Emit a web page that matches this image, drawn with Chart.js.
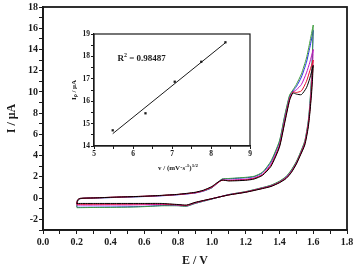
<!DOCTYPE html>
<html>
<head>
<meta charset="utf-8">
<script src="https://cdn.jsdelivr.net/npm/chart.js"></script>
<style>
  html, body { margin: 0; padding: 0; background: #fff; }
  #wrap { position: relative; width: 356px; height: 267px; }
  #main { position: absolute; left: 0; top: 0; }
  #inset { position: absolute; left: 60px; top: 25px; }
</style>
</head>
<body>
<div id="wrap">
  <canvas id="main" width="356" height="267"></canvas>
  <canvas id="inset" width="200" height="150"></canvas>
</div>
<script>
// potentials (V) of the forward and the reverse sweep
const fwdE = [0.2, 0.205, 0.22, 0.3, 0.4, 0.5, 0.6, 0.7, 0.8, 0.9, 0.95, 1.0, 1.03, 1.06,
  1.1, 1.2, 1.25, 1.3, 1.35, 1.4, 1.43, 1.46, 1.48, 1.5, 1.53, 1.56, 1.58, 1.6];
const revE = [1.6, 1.595, 1.59, 1.58, 1.57, 1.55, 1.52, 1.5, 1.47, 1.44, 1.4, 1.35, 1.3,
  1.2, 1.1, 1.0, 0.9, 0.85, 0.8, 0.7, 0.6, 0.5, 0.4, 0.3, 0.2];

// current (uA), one curve per scan rate
const blackFwd = [-0.5, -0.15, -0.02, 0.02, 0.08, 0.13, 0.18, 0.26, 0.36, 0.55, 0.75, 1.1, 1.45, 1.7,
  1.62, 1.68, 1.8, 2.15, 3.0, 4.8, 7.0, 9.2, 9.9, 9.8, 9.75, 10.4, 11.3, 12.5];
const blackRev = [12.5, 11.0, 9.8, 8.0, 6.6, 5.0, 3.9, 3.2, 2.4, 1.85, 1.45, 1.1, 0.9,
  0.55, 0.3, -0.05, -0.4, -0.65, -0.6, -0.5, -0.5, -0.5, -0.5, -0.5, -0.5];
const redFwd = [-0.55, -0.18, -0.03, 0.02, 0.08, 0.13, 0.18, 0.25, 0.35, 0.52, 0.72, 1.05, 1.4, 1.68,
  1.65, 1.72, 1.85, 2.2, 3.1, 4.9, 7.1, 9.3, 10.0, 9.95, 10.1, 11.0, 12.0, 13.0];
const redRev = [13.0, 11.5, 10.2, 8.2, 6.8, 5.1, 3.95, 3.25, 2.45, 1.9, 1.48, 1.12, 0.92,
  0.57, 0.3, -0.05, -0.42, -0.68, -0.62, -0.55, -0.55, -0.56, -0.57, -0.57, -0.58];
const magentaFwd = [-0.6, -0.2, -0.04, 0.02, 0.07, 0.12, 0.17, 0.24, 0.34, 0.5, 0.7, 1.02, 1.38, 1.7,
  1.7, 1.78, 1.9, 2.25, 3.2, 5.0, 7.3, 9.4, 10.0, 10.2, 10.7, 11.8, 12.8, 14.0];
const magentaRev = [14.0, 12.2, 10.6, 8.4, 6.9, 5.2, 4.0, 3.3, 2.5, 1.95, 1.5, 1.15, 0.95,
  0.58, 0.32, -0.05, -0.45, -0.7, -0.65, -0.6, -0.62, -0.64, -0.64, -0.65, -0.65];
const blueFwd = [-0.8, -0.3, -0.05, 0.0, 0.05, 0.1, 0.15, 0.22, 0.32, 0.48, 0.66, 0.98, 1.38, 1.78,
  1.82, 1.92, 2.02, 2.4, 3.4, 5.3, 7.6, 9.6, 10.1, 10.5, 11.4, 12.8, 14.2, 15.8];
const blueRev = [15.8, 13.2, 11.2, 8.7, 7.1, 5.3, 4.1, 3.4, 2.6, 2.0, 1.55, 1.2, 0.98,
  0.6, 0.33, -0.08, -0.5, -0.75, -0.7, -0.7, -0.78, -0.82, -0.84, -0.85, -0.86];
const greenFwd = [-0.85, -0.3, -0.05, 0.01, 0.06, 0.11, 0.16, 0.24, 0.34, 0.5, 0.68, 0.98, 1.38, 1.8,
  1.85, 1.96, 2.06, 2.45, 3.5, 5.4, 7.7, 9.7, 10.2, 10.7, 11.7, 13.2, 14.7, 16.3];
const greenRev = [16.3, 13.6, 11.5, 8.9, 7.2, 5.4, 4.15, 3.45, 2.65, 2.05, 1.6, 1.22, 1.0,
  0.62, 0.34, -0.08, -0.5, -0.76, -0.72, -0.72, -0.8, -0.85, -0.87, -0.88, -0.9];

// inset: peak current vs square root of scan rate
const sqrtRate = [5.48, 6.32, 7.07, 7.75, 8.37];
const peakI = [14.70, 15.46, 16.87, 17.76, 18.63];
const fitX = [5.48, 8.37];
const fitY = [14.55, 18.61];

const SERIF = "'Liberation Serif', 'Times New Roman', serif";
const INK = '#1a1a1a';

function loop(fI, rI) {
  return fwdE.map((e, i) => ({ x: e, y: fI[i] }))
    .concat(revE.map((e, i) => ({ x: e, y: rI[i] })));
}

function cv(color, fI, rI) {
  return { data: loop(fI, rI), borderColor: color, borderWidth: 1, showLine: true,
    pointRadius: 0, tension: 0.2, fill: false };
}

const frame = {
  id: 'frame',
  afterDraw(chart) {
    const a = chart.chartArea, ctx = chart.ctx;
    ctx.save();
    ctx.strokeStyle = INK;
    ctx.lineWidth = chart.canvas.id === 'main' ? 1.8 : 1.2;
    ctx.strokeRect(a.left, a.top, a.right - a.left, a.bottom - a.top);
    ctx.restore();
  }
};

new Chart(document.getElementById('main'), {
  type: 'scatter',
  data: {
    datasets: [
      cv('#000000', blackFwd, blackRev),
      cv('#e8102a', redFwd, redRev),
      cv('#c010c0', magentaFwd, magentaRev),
      cv('#3c9c3c', greenFwd, greenRev),
      cv('#2828e8', blueFwd, blueRev)
    ]
  },
  options: {
    responsive: false,
    animation: false,
    layout: { padding: { top: 6, right: 9, left: 0, bottom: 0 } },
    plugins: { legend: { display: false }, tooltip: { enabled: false } },
    scales: {
      x: {
        type: 'linear', min: 0, max: 1.8,
        ticks: {
          stepSize: 0.1, autoSkip: false, maxRotation: 0, padding: 2, color: INK,
          font: { family: SERIF, size: 10, weight: 'bold' },
          callback: v => Math.round(v * 10) % 2 === 0 ? v.toFixed(1) : ''
        },
        grid: { drawOnChartArea: false, tickLength: 4, color: INK },
        border: { color: INK, width: 1.8 },
        title: { display: true, text: 'E / V', color: INK, padding: 0,
          font: { family: SERIF, size: 12, weight: 'bold', lineHeight: 1 } },
        afterFit(s) { s.height = 37; }
      },
      y: {
        type: 'linear', min: -3, max: 18,
        ticks: {
          stepSize: 1, autoSkip: false, padding: 1, color: INK,
          font: { family: SERIF, size: 10, weight: 'bold' },
          callback: v => Math.round(v) % 2 === 0 ? String(v) : ''
        },
        grid: { drawOnChartArea: false, tickLength: 4, color: INK },
        border: { color: INK, width: 1.8 },
        title: { display: true, text: 'I / μA', color: INK, padding: { top: 5 },
          font: { family: SERIF, size: 12, weight: 'bold' } },
        afterFit(s) { s.width = 43; }
      }
    }
  },
  plugins: [frame]
});

const insetText = {
  id: 'insetText',
  afterDraw(chart) {
    const ctx = chart.ctx, xs = chart.scales.x, ys = chart.scales.y;
    ctx.save();
    ctx.fillStyle = INK;
    // R squared
    ctx.font = `bold 9px ${SERIF}`;
    ctx.textBaseline = 'alphabetic';
    let x = xs.getPixelForValue(5.6), y = ys.getPixelForValue(17.8);
    ctx.fillText('R', x, y);
    x += ctx.measureText('R').width;
    ctx.font = `bold 6px ${SERIF}`;
    ctx.fillText('2', x, y - 3.5);
    x += ctx.measureText('2').width;
    ctx.font = `bold 9px ${SERIF}`;
    ctx.fillText(' = 0.98487', x, y);
    // x title
    const parts = [['v / (mV·s', 7, 0], ['-1', 5, -3], [')', 7, 0], ['1/2', 5, -3]];
    let w = 0;
    parts.forEach(p => { ctx.font = `bold ${p[1]}px ${SERIF}`; w += ctx.measureText(p[0]).width; });
    x = 118 - w / 2; y = 145;
    parts.forEach(p => {
      ctx.font = `bold ${p[1]}px ${SERIF}`;
      ctx.fillText(p[0], x, y + p[2]);
      x += ctx.measureText(p[0]).width;
    });
    ctx.restore();
  }
};

new Chart(document.getElementById('inset'), {
  type: 'scatter',
  data: {
    datasets: [
      { data: sqrtRate.map((v, i) => ({ x: v, y: peakI[i] })), pointStyle: 'rect',
        pointRadius: 1.6, backgroundColor: INK, borderColor: INK, borderWidth: 0, showLine: false },
      { data: fitX.map((v, i) => ({ x: v, y: fitY[i] })), borderColor: INK, borderWidth: 1,
        pointRadius: 0, showLine: true }
    ]
  },
  options: {
    responsive: false,
    animation: false,
    layout: { padding: { top: 9, right: 10, left: 0, bottom: 0 } },
    plugins: { legend: { display: false }, tooltip: { enabled: false } },
    scales: {
      x: {
        type: 'linear', min: 5, max: 9,
        ticks: {
          stepSize: 0.5, autoSkip: false, maxRotation: 0, padding: 1, color: INK,
          font: { family: SERIF, size: 7.5, weight: 'bold' },
          callback: v => Number.isInteger(v) ? String(v) : ''
        },
        grid: { drawOnChartArea: false, tickLength: 3, color: INK },
        border: { color: INK, width: 1.2 },
        afterFit(s) { s.height = 29; }
      },
      y: {
        type: 'linear', min: 14, max: 19,
        ticks: {
          stepSize: 0.5, autoSkip: false, padding: 1, color: INK,
          font: { family: SERIF, size: 7.5, weight: 'bold' },
          callback: v => Number.isInteger(v) ? String(v) : ''
        },
        grid: { drawOnChartArea: false, tickLength: 3, color: INK },
        border: { color: INK, width: 1.2 },
        title: { display: true, text: 'Iₚ / μA', color: INK, padding: { top: 11 },
          font: { family: SERIF, size: 7, weight: 'bold', lineHeight: 1 } },
        afterFit(s) { s.width = 34; }
      }
    }
  },
  plugins: [frame, insetText]
});
</script>
</body>
</html>
